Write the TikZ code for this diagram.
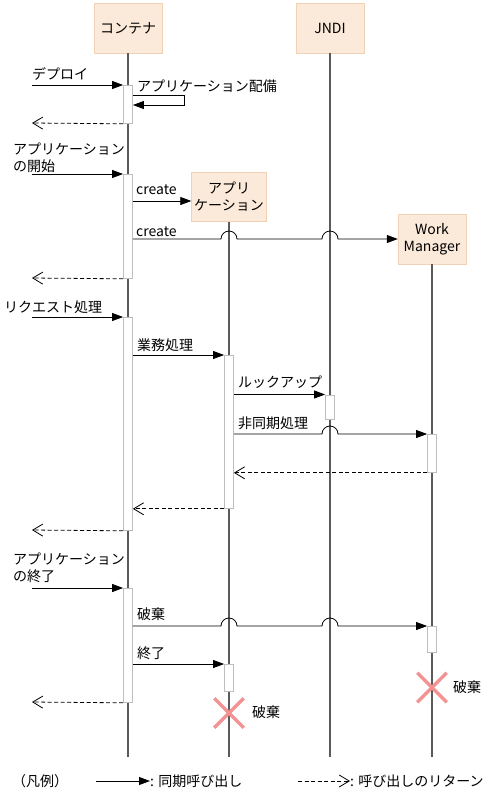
\documentclass[tikz,border=0pt]{standalone}
\usepackage{fontspec}
\setmainfont{Noto Sans CJK JP}
\usetikzlibrary{arrows.meta,positioning,shapes.misc}
\definecolor{boxfill}{RGB}{251,233,217}
\definecolor{boxline}{RGB}{242,210,180}
\definecolor{lifegray}{RGB}{90,90,90}
\definecolor{bargray}{RGB}{190,190,190}
\definecolor{killpink}{RGB}{243,146,146}

\begin{document}
\begin{tikzpicture}[
  x=1pt, y=1pt,
  every node/.style={font=\fontsize{14}{17}\selectfont},
  head/.style={draw=boxline, fill=boxfill, minimum width=68pt, minimum height=50pt, align=center, inner sep=2pt},
  life/.style={draw=lifegray, line width=1.2pt},
  bar/.style={draw=bargray, fill=white, minimum width=9pt, inner sep=0pt, line width=0.8pt, anchor=north},
  call/.style={-{Triangle[length=11pt,width=8pt]}, line width=0.8pt},
  ret/.style={-{Straight Barb[length=10pt,width=12pt]}, line width=0.8pt, dash pattern=on 4pt off 2.5pt},
  lbl/.style={anchor=base west, inner sep=0pt, align=left},
  kill/.style={draw=killpink, cross out, line width=3.5pt, minimum size=26pt, inner sep=0pt}
]
  \useasboundingbox (0,0) rectangle (491,-793);

  % Lifeline heads
  \node[head] (cont) at (128,-28) {コンテナ};
  \node[head] (jndi) at (330,-28) {JNDI};
  \node[head, minimum width=75pt, minimum height=49pt] (app) at (229,-197) {アプリ\\ケーション};
  \node[head] (wm) at (432,-239) {Work\\Manager};

  % Lifelines
  \coordinate (bottom) at (0,-757);
  \draw[life] (cont.south) -- (cont.south |- bottom);
  \draw[life] (jndi.south) -- (jndi.south |- bottom);
  \draw[life] (app.south) -- (app.south |- bottom);
  \draw[life] (wm.south) -- (wm.south |- bottom);

  % Activations
  \node[bar, minimum height=38pt] (b1) at (cont.south |- 0,-85) {};
  \node[bar, minimum height=104pt] (b2) at (cont.south |- 0,-174) {};
  \node[bar, minimum height=213pt] (b3) at (cont.south |- 0,-317) {};
  \node[bar, minimum height=114pt] (b4) at (cont.south |- 0,-588) {};
  \node[bar, minimum height=153pt] (a1) at (app.south |- 0,-355) {};
  \node[bar, minimum height=27pt] (a2) at (app.south |- 0,-664) {};
  \node[bar, minimum height=24pt] (j1) at (jndi.south |- 0,-394.5) {};
  \node[bar, minimum height=38pt] (w1) at (wm.south |- 0,-434) {};
  \node[bar, minimum height=26pt] (w2) at (wm.south |- 0,-626) {};

  % Deploy
  \coordinate (in1) at (32,-85);
  \coordinate (out1) at (32,-123);
  \node[lbl] (deploy) at (32,-79) {デプロイ};
  \draw[call] (in1) -- (b1.north west);
  \node[lbl] (place) at (137,-91) {アプリケーション配備};
  \draw[call] ([yshift=-10pt]b1.north east) -- ++(51,0) -- ++(0,-10) -- ([yshift=-20pt]b1.north east);
  \draw[ret] (b1.south west) -- (out1);

  % Application start
  \coordinate (in2) at (32,-174);
  \coordinate (out2) at (32,-278);
  \node[lbl] (start) at (13,-171) {アプリケーション\\の開始};
  \draw[call] (in2) -- (b2.north west);
  \node[lbl] (create1) at (136,-194) {create};
  \draw[call] (b2.east |- 0,-201) -- (app.west |- 0,-201);
  \node[lbl] (create2) at (136,-236) {create};
  \draw[call] (b2.east |- wm.west) -- (221,-239) arc[start angle=180, end angle=0, radius=8]
    -- (322,-239) arc[start angle=180, end angle=0, radius=8] -- (wm.west);
  \draw[ret] (b2.south west) -- (out2);

  % Request
  \coordinate (in3) at (32,-317);
  \coordinate (out3) at (32,-530);
  \node[lbl] (request) at (4,-312) {リクエスト処理};
  \draw[call] (in3) -- (b3.north west);
  \node[lbl] (business) at (137,-350) {業務処理};
  \draw[call] (b3.east |- a1.north) -- (a1.north west);
  \node[lbl] (lookup) at (238,-387) {ルックアップ};
  \draw[call] (a1.east |- j1.north) -- (j1.north west);
  \node[lbl] (async) at (238,-428) {非同期処理};
  \draw[call] (a1.east |- w1.north) -- (322,-434) arc[start angle=180, end angle=0, radius=8] -- (w1.north west);
  \draw[ret] (w1.south west) -- (a1.east |- w1.south);
  \draw[ret] (a1.south west) -- (b3.east |- a1.south);
  \draw[ret] (b3.south west) -- (out3);

  % Application end
  \coordinate (in4) at (32,-588);
  \coordinate (out4) at (32,-702);
  \node[lbl] (finish) at (13,-581) {アプリケーション\\の終了};
  \draw[call] (in4) -- (b4.north west);
  \node[lbl] (discard) at (137,-619) {破棄};
  \draw[call] (b4.east |- w2.north) -- (221,-626) arc[start angle=180, end angle=0, radius=8]
    -- (322,-626) arc[start angle=180, end angle=0, radius=8] -- (w2.north west);
  \node[lbl] (stop) at (137,-658) {終了};
  \draw[call] (b4.east |- a2.north) -- (a2.north west);
  \draw[ret] (b4.south west) -- (out4);

  % Destruction
  \node[kill] (appx) at (app.south |- 0,-713) {};
  \node[lbl] (appxlbl) at (252,-717) {破棄};
  \node[kill] (wmx) at (wm.south |- 0,-687.5) {};
  \node[lbl] (wmxlbl) at (453,-692) {破棄};

  % Legend
  \node[lbl] (legend) at (12,-786) {（凡例）};
  \node[lbl] (synclbl) at (150,-786) {: 同期呼び出し};
  \coordinate (syncfrom) at (96,-781);
  \draw[call] (syncfrom) -- (synclbl.west |- syncfrom);
  \node[lbl] (retlbl) at (350,-786) {: 呼び出しのリターン};
  \coordinate (retfrom) at (298,-781);
  \draw[ret] (retfrom) -- (retlbl.west |- retfrom);
\end{tikzpicture}
\end{document}
